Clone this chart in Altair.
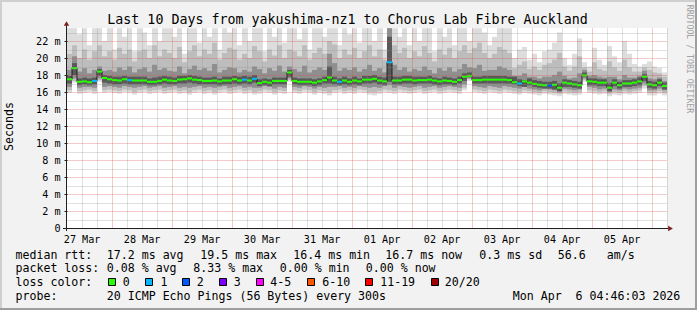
import altair as alt
import pandas as pd

# ---------------- data ----------------
START_UTC = "2026-03-27 06:10"
END_UTC = "2026-04-06 06:10"
BIN_HOURS = 2

title_text = "Last 10 Days from yakushima-nz1 to Chorus Lab Fibre Auckland"
y_title = "Seconds"
watermark = "RRDTOOL / TOBI OETIKER"

median_rtt_ms = [
    17.5, 18.8, 17.2, 17.25, 17.15, 17.3, 18.4, 17.65, 17.5,
    17.4, 17.35, 17.5, 17.4, 17.35, 17.35, 17.35, 17.2, 17.2, 17.3, 17.45, 17.35,
    17.3, 17.45, 17.5, 17.6, 17.45, 17.4, 17.3, 17.3, 17.35, 17.25, 17.35, 17.35,
    17.5, 17.35, 17.45, 17.35, 17.55, 17.05, 17.2, 17.1, 17.3, 17.3, 17.3, 18.3,
    17.3, 17.2, 17.2, 17.2, 17.1, 17.25, 17.4, 17.7, 17.35, 17.2, 17.35, 17.2,
    17.35, 17.25, 17.45, 17.45, 17.55, 17.35, 17.25, 19.5, 17.35, 17.35, 17.45, 17.45,
    17.35, 17.4, 17.4, 17.45, 17.35, 17.25, 17.35, 17.3, 17.2, 17.4, 17.8, 17.9,
    17.4, 17.4, 17.45, 17.45, 17.45, 17.45, 17.45, 17.4, 17.15, 17.0, 17.25, 17.1,
    16.95, 16.85, 16.8, 16.75, 16.85, 16.5, 17.1, 17.0, 16.9, 16.8, 17.95, 17.25,
    17.2, 17.1, 17.1, 16.5, 17.1, 16.8, 17.0, 17.0, 17.1, 17.25, 17.8, 16.9,
    16.8, 17.1, 16.7,
]

lost_pings = [
    0, 0, 0, 0, 0, 1, 0, 0, 0,
    0, 0, 0, 1, 0, 0, 0, 0, 0, 0, 0, 0,
    0, 0, 0, 0, 0, 0, 0, 0, 0, 0, 0, 0,
    0, 0, 1, 0, 1, 0, 0, 0, 0, 0, 0, 0,
    0, 0, 0, 0, 0, 0, 0, 0, 0, 1, 0, 0,
    0, 0, 0, 0, 0, 0, 0, 1, 0, 0, 0, 0,
    0, 0, 0, 0, 0, 0, 0, 0, 0, 0, 0, 0,
    0, 0, 0, 0, 0, 0, 0, 0, 0, 1, 0, 0,
    0, 0, 0, 2, 0, 0, 0, 0, 0, 0, 0, 0,
    0, 0, 0, 0, 0, 0, 0, 0, 0, 0, 0, 0,
    0, 0, 0,
]

# smoke: outer (lightest) to inner (darkest) bands, upper edges
smoke_hi_1 = [
    23.5, 23.5, 22.8, 23.5, 21.5, 23.5, 23.5, 22.0, 23.5,
    21.0, 23.5, 22.5, 23.5, 20.8, 23.5, 23.0, 21.5, 23.5, 22.0, 23.5, 23.5,
    22.5, 23.5, 20.5, 23.5, 23.5, 21.8, 23.5, 22.5, 23.5, 21.0, 23.5, 23.0,
    23.5, 21.5, 23.5, 22.0, 23.5, 23.5, 20.8, 23.5, 22.5, 23.5, 21.8, 23.5,
    23.5, 22.2, 23.5, 21.0, 23.5, 23.5, 22.5, 23.5, 23.5, 21.5, 23.5, 22.8,
    23.5, 21.8, 23.5, 23.5, 22.0, 23.5, 21.0, 23.5, 23.5, 22.5, 23.5, 21.5,
    23.5, 22.0, 23.5, 23.5, 20.8, 23.5, 22.5, 23.5, 21.5, 23.5, 23.5, 22.0,
    23.5, 23.5, 23.0, 21.5, 22.5, 23.5, 23.5, 23.5, 20.0, 21.0, 21.3, 19.8,
    20.5, 19.5, 20.8, 21.0, 21.8, 23.0, 20.0, 19.2, 20.5, 22.3, 19.5, 19.0,
    21.2, 19.8, 19.2, 21.4, 20.2, 19.5, 22.0, 20.5, 19.3, 19.0, 19.3, 19.6,
    19.0, 18.8, 18.3,
]
smoke_hi_2 = [
    20.5, 21.5, 20.0, 21.0, 19.8, 20.8, 21.5, 20.2, 20.8,
    19.8, 21.2, 20.5, 21.0, 19.6, 20.8, 21.0, 20.0, 21.5, 20.2, 21.0, 20.6,
    20.0, 21.3, 19.5, 20.8, 21.5, 20.2, 21.0, 20.5, 21.8, 19.8, 20.6, 21.2,
    21.0, 19.8, 20.5, 20.0, 21.4, 20.8, 19.6, 21.0, 20.3, 21.5, 20.0, 21.0,
    20.8, 20.2, 21.5, 19.8, 20.6, 21.2, 20.5, 22.0, 21.6, 20.0, 21.0, 20.4,
    21.2, 20.0, 20.8, 21.5, 20.2, 21.0, 19.8, 23.5, 21.5, 20.6, 21.2, 20.0,
    20.8, 20.2, 21.4, 20.6, 19.6, 21.0, 20.4, 21.2, 20.0, 20.8, 21.5, 20.6,
    21.2, 21.8, 20.6, 20.0, 20.5, 21.3, 21.0, 20.6, 18.8, 19.2, 19.6, 18.7,
    19.0, 18.6, 19.2, 19.4, 19.8, 20.6, 19.0, 18.5, 19.0, 20.2, 18.9, 18.4,
    19.5, 18.7, 18.5, 19.6, 18.9, 18.5, 19.8, 18.9, 18.4, 18.4, 18.9, 18.6,
    18.3, 18.2, 17.8,
]
smoke_hi_3 = [
    18.6, 20.2, 18.4, 18.8, 18.2, 18.6, 19.0, 18.5, 18.6,
    18.4, 18.9, 18.6, 19.0, 18.3, 18.7, 18.9, 18.4, 19.2, 18.6, 18.8, 18.5,
    18.4, 19.0, 18.2, 18.7, 19.1, 18.6, 18.8, 18.5, 19.3, 18.3, 18.6, 18.9,
    18.8, 18.3, 18.6, 18.4, 19.0, 18.7, 18.2, 18.8, 18.5, 19.1, 18.4, 19.0,
    18.7, 18.4, 19.1, 18.3, 18.6, 18.9, 18.6, 20.5, 19.4, 18.5, 18.8, 18.6,
    18.9, 18.4, 18.7, 19.2, 18.5, 18.8, 18.3, 23.5, 19.2, 18.6, 18.9, 18.4,
    18.7, 18.5, 19.0, 18.6, 18.2, 18.8, 18.5, 18.9, 18.4, 18.7, 19.3, 18.9,
    18.8, 19.2, 18.5, 18.6, 18.6, 19.0, 18.8, 18.6, 17.9, 17.9, 18.2, 17.8,
    17.8, 17.6, 17.8, 17.8, 18.0, 18.4, 17.9, 17.6, 17.7, 18.2, 18.6, 17.9,
    18.0, 17.8, 17.7, 17.8, 17.8, 17.5, 18.0, 17.7, 17.7, 17.9, 18.5, 17.6,
    17.5, 17.7, 17.3,
]
smoke_hi_4 = [
    17.9, 19.4, 17.6, 17.7, 17.6, 17.7, 18.7, 18.0, 17.9,
    17.8, 17.8, 17.9, 17.8, 17.8, 17.8, 17.8, 17.6, 17.7, 17.8, 17.9, 17.8,
    17.7, 17.9, 17.9, 18.0, 17.9, 17.8, 17.7, 17.7, 17.8, 17.6, 17.8, 17.8,
    17.9, 17.8, 17.9, 17.8, 18.0, 17.5, 17.6, 17.5, 17.7, 17.7, 17.7, 18.6,
    17.7, 17.6, 17.6, 17.6, 17.5, 17.6, 17.8, 19.0, 17.8, 17.6, 17.8, 17.6,
    17.8, 17.6, 17.9, 17.9, 18.0, 17.8, 17.7, 22.5, 17.8, 17.8, 17.9, 17.9,
    17.8, 17.8, 17.8, 17.9, 17.7, 17.6, 17.8, 17.7, 17.6, 17.8, 18.2, 18.3,
    17.8, 17.8, 17.9, 17.9, 17.9, 17.9, 17.9, 17.8, 17.8, 17.5, 17.4, 17.6,
    17.4, 17.3, 17.2, 17.2, 17.3, 17.0, 17.5, 17.4, 17.3, 17.2, 18.3, 17.6,
    17.6, 17.5, 17.5, 17.0, 17.5, 17.2, 17.4, 17.4, 17.5, 17.7, 18.1, 17.3,
    17.2, 17.5, 17.1,
]
# lower edges
smoke_lo_1 = [
    15.9, 17.1, 15.8, 15.9, 16.0, 15.8, 17.2, 15.9, 16.0,
    15.9, 15.8, 16.0, 15.9, 15.7, 15.9, 16.0, 15.8, 15.9, 16.0, 15.8, 15.9,
    16.0, 15.8, 15.9, 15.7, 15.9, 16.0, 15.8, 15.9, 15.7, 15.9, 16.0, 15.8,
    15.9, 16.0, 15.8, 15.9, 15.7, 15.8, 16.0, 15.9, 15.7, 15.9, 15.8, 17.2,
    15.9, 15.8, 16.0, 15.9, 15.7, 15.9, 15.8, 15.6, 15.9, 16.0, 15.8, 15.9,
    15.8, 16.0, 15.9, 15.7, 15.6, 15.8, 16.0, 15.9, 15.8, 16.0, 15.9, 15.8,
    15.9, 16.0, 15.8, 15.9, 16.0, 15.8, 15.9, 16.0, 15.9, 15.8, 16.2, 17.3,
    16.0, 15.9, 15.8, 16.0, 15.9, 15.8, 16.0, 15.9, 15.8, 15.7, 15.9, 15.8,
    15.7, 15.6, 15.8, 15.7, 15.6, 15.5, 15.8, 15.7, 15.6, 15.7, 17.2, 15.9,
    15.8, 15.7, 15.8, 15.5, 15.7, 15.6, 15.8, 15.7, 15.8, 15.9, 16.4, 15.6,
    15.6, 15.8, 15.6,
]
smoke_lo_2 = [
    16.2, 17.3, 16.1, 16.2, 16.3, 16.1, 17.4, 16.2, 16.3,
    16.2, 16.1, 16.3, 16.2, 16.0, 16.2, 16.3, 16.1, 16.2, 16.3, 16.1, 16.2,
    16.3, 16.1, 16.2, 16.0, 16.2, 16.3, 16.1, 16.2, 16.0, 16.2, 16.3, 16.1,
    16.2, 16.3, 16.1, 16.2, 16.0, 16.1, 16.3, 16.2, 16.0, 16.2, 16.1, 17.4,
    16.2, 16.1, 16.3, 16.2, 16.0, 16.2, 16.1, 16.0, 16.2, 16.3, 16.1, 16.2,
    16.1, 16.3, 16.2, 16.0, 16.0, 16.1, 16.3, 16.2, 16.1, 16.3, 16.2, 16.1,
    16.2, 16.3, 16.1, 16.2, 16.3, 16.1, 16.2, 16.3, 16.2, 16.1, 16.5, 17.5,
    16.3, 16.2, 16.1, 16.3, 16.2, 16.1, 16.3, 16.2, 16.1, 16.0, 16.2, 16.1,
    16.0, 15.9, 16.1, 16.0, 15.9, 15.8, 16.1, 16.0, 15.9, 16.0, 17.4, 16.2,
    16.1, 16.0, 16.1, 15.8, 16.0, 15.9, 16.1, 16.0, 16.1, 16.2, 16.7, 15.9,
    15.9, 16.1, 15.9,
]
smoke_lo_3 = [
    16.6, 17.6, 16.5, 16.6, 16.6, 16.5, 17.6, 16.6, 16.7,
    16.6, 16.5, 16.7, 16.6, 16.5, 16.6, 16.7, 16.5, 16.6, 16.7, 16.5, 16.6,
    16.7, 16.5, 16.6, 16.5, 16.6, 16.7, 16.5, 16.6, 16.5, 16.6, 16.7, 16.5,
    16.6, 16.7, 16.5, 16.6, 16.5, 16.5, 16.7, 16.6, 16.4, 16.6, 16.5, 17.6,
    16.6, 16.5, 16.7, 16.6, 16.4, 16.6, 16.5, 16.6, 16.6, 16.7, 16.5, 16.6,
    16.5, 16.7, 16.6, 16.5, 16.6, 16.5, 16.7, 16.8, 16.5, 16.7, 16.6, 16.5,
    16.6, 16.7, 16.5, 16.6, 16.7, 16.5, 16.6, 16.7, 16.6, 16.5, 16.9, 17.6,
    16.7, 16.6, 16.5, 16.7, 16.6, 16.5, 16.7, 16.6, 16.5, 16.4, 16.6, 16.4,
    16.3, 16.2, 16.4, 16.3, 16.2, 16.0, 16.4, 16.3, 16.2, 16.3, 17.6, 16.6,
    16.5, 16.3, 16.4, 16.0, 16.3, 16.2, 16.4, 16.3, 16.4, 16.5, 17.0, 16.2,
    16.2, 16.4, 16.2,
]
smoke_lo_4 = [
    17.0, 18.0, 16.8, 16.9, 16.8, 16.9, 17.9, 17.1, 17.0,
    16.9, 16.9, 17.0, 16.9, 16.9, 16.9, 16.9, 16.8, 16.8, 16.9, 17.0, 16.9,
    16.9, 17.0, 17.0, 17.1, 17.0, 16.9, 16.9, 16.9, 16.9, 16.8, 16.9, 16.9,
    17.0, 16.9, 17.0, 16.9, 17.1, 16.7, 16.8, 16.7, 16.9, 16.9, 16.9, 17.8,
    16.9, 16.8, 16.8, 16.8, 16.7, 16.8, 17.0, 17.0, 16.9, 16.8, 16.9, 16.8,
    16.9, 16.8, 17.0, 17.0, 17.1, 16.9, 16.8, 17.2, 16.9, 16.9, 17.0, 17.0,
    16.9, 17.0, 17.0, 17.0, 16.9, 16.8, 16.9, 16.9, 16.8, 17.0, 17.3, 17.8,
    17.0, 17.0, 17.0, 17.0, 17.0, 17.0, 17.0, 17.0, 16.9, 16.7, 16.6, 16.8,
    16.6, 16.5, 16.4, 16.4, 16.3, 16.1, 16.6, 16.6, 16.5, 16.4, 17.8, 16.8,
    16.8, 16.7, 16.7, 16.1, 16.7, 16.4, 16.6, 16.6, 16.7, 16.8, 17.3, 16.5,
    16.4, 16.7, 16.3,
]

loss_labels = ["0", "1", "2", "3", "4-5", "6-10", "11-19", "20/20"]
loss_colors = ["#26ff00", "#00b8ff", "#0059ff", "#7e00ff", "#ff00ff", "#ff5500", "#ff0000", "#a10000"]

row_labels = ["median rtt:", "packet loss:", "loss color:", "probe:"]
rtt_stats = ["17.2 ms avg", "19.5 ms max", "16.4 ms min", "16.7 ms now", "0.3 ms sd", "56.6", "am/s"]
loss_stats = ["0.08 % avg", "8.33 % max", "0.00 % min", "0.00 % now"]
probe_text = "20 ICMP Echo Pings (56 Bytes) every 300s"
stamp_text = "Mon Apr \u00a06 04:46:03 2026"

# ---------------- layout / style ----------------
PAD_L, PAD_T, PAD_R, PAD_B = 67, 28, 30, 82
W, H = 600, 200
Y_MAX = 200 / 8.5
MONO = "DejaVu Sans Mono"
LEG_FS = 11.6
AX_FS = 10.15
RED = "rgba(222,79,79,0.6)"
GRAY = "rgba(143,143,143,0.55)"
SMOKE = ["#dddddd", "#bdbdbd", "#8f8f8f", "#595959"]

series = [median_rtt_ms, lost_pings, smoke_hi_1, smoke_hi_2, smoke_hi_3, smoke_hi_4,
          smoke_lo_1, smoke_lo_2, smoke_lo_3, smoke_lo_4]
n = len(median_rtt_ms)
assert all(len(s) == n for s in series), [len(s) for s in series]


def loss_label(c):
    if c <= 3:
        return loss_labels[c]
    if c <= 5:
        return "4-5"
    if c <= 10:
        return "6-10"
    if c <= 19:
        return "11-19"
    return "20/20"


def ms(ts):
    return int(ts.value // 10**6)


t_start = pd.Timestamp(START_UTC, tz="UTC")
t_end = pd.Timestamp(END_UTC, tz="UTC")
starts = pd.date_range(t_start, periods=n, freq=f"{BIN_HOURS}h")
df = pd.DataFrame({
    "t0": [ms(t) for t in starts],
    "t1": [ms(t + pd.Timedelta(hours=BIN_HOURS)) for t in starts],
    "med": median_rtt_ms,
    "loss": [loss_label(c) for c in lost_pings],
    "hi1": smoke_hi_1, "hi2": smoke_hi_2, "hi3": smoke_hi_3, "hi4": smoke_hi_4,
    "lo1": smoke_lo_1, "lo2": smoke_lo_2, "lo3": smoke_lo_3, "lo4": smoke_lo_4,
})
line_df = pd.DataFrame({
    "t0": [ms(t) for t in starts] + [ms(t_end)],
    "med": median_rtt_ms + [median_rtt_ms[-1]],
})

grid_times = [ms(t) for t in pd.date_range("2026-03-27 12:00", "2026-04-06 06:00", freq="6h", tz="UTC")]

x_scale = alt.Scale(type="utc", domain=[ms(t_start), ms(t_end)], nice=False)
y_scale = alt.Scale(domain=[0, Y_MAX], nice=False, zero=True)

x_axis = alt.Axis(
    values=grid_times,
    labelExpr="utchours(datum.value) == 12 ? utcFormat(datum.value, '%d %b') : ''",
    labelFont=MONO, labelFontSize=AX_FS, labelColor="#000000", labelPadding=6,
    labelOverlap=False, labelFlush=False, ticks=False, domain=False,
    grid=True, gridDash=[1, 1], gridWidth=1,
    gridColor={"condition": {"test": "utchours(datum.value) == 0", "value": RED}, "value": GRAY},
    title=None, zindex=1,
)
y_axis = alt.Axis(
    values=list(range(0, 24)),
    labelExpr="datum.value == 0 ? '0' : (datum.value % 2 == 0 ? datum.value + ' m' : '')",
    labelFont=MONO, labelFontSize=AX_FS, labelColor="#000000", labelPadding=4,
    labelOverlap=False, tickSize=3,
    tickColor={"condition": {"test": "datum.value % 2 == 0", "value": "#1f1f1f"}, "value": "rgba(0,0,0,0)"},
    domain=False, grid=True, gridDash=[1, 1], gridWidth=1,
    gridColor={"condition": {"test": "datum.value % 2 == 0", "value": RED}, "value": GRAY},
    gridOpacity={"condition": {"test": "datum.value == 0", "value": 0}, "value": 1},
    title=None, zindex=1,
)

X = alt.X("t0:T", scale=x_scale, axis=x_axis)

layers = []
base = alt.Chart(df)
for i, col in enumerate(SMOKE, start=1):
    layers.append(base.mark_rect(color=col).encode(
        x=X, x2="t1:T",
        y=alt.Y(f"lo{i}:Q", scale=y_scale, axis=y_axis), y2=f"hi{i}:Q",
    ))

layers.append(alt.Chart(line_df).mark_line(interpolate="step-after", color="#202020", strokeWidth=1).encode(
    x=X, y=alt.Y("med:Q", scale=y_scale, axis=y_axis)))

layers.append(base.transform_calculate(mlo="datum.med - 0.12", mhi="datum.med + 0.12").mark_rect().encode(
    x=X, x2="t1:T",
    y=alt.Y("mlo:Q", scale=y_scale, axis=y_axis), y2="mhi:Q",
    color=alt.Color("loss:N", scale=alt.Scale(domain=loss_labels, range=loss_colors), legend=None),
))

# ---------------- decorations (frame, axes, arrows, texts) ----------------
deco = pd.DataFrame({"k": [0]})


def rx(v):
    return alt.value(v - PAD_L)


def ry(v):
    return alt.value(v - PAD_T)


def hrule(x1, x2, y, color, width):
    return alt.Chart(deco).mark_rule(color=color, strokeWidth=width).encode(x=rx(x1), x2=rx(x2), y=ry(y))


def vrule(x, y1, y2, color, width):
    return alt.Chart(deco).mark_rule(color=color, strokeWidth=width).encode(x=rx(x), y=ry(y1), y2=ry(y2))


def text_at(txt, x, y, size=LEG_FS, align="left", baseline="alphabetic", color="#000000", angle=0):
    props = dict(text=txt, font=MONO, fontSize=size, align=align, baseline=baseline, color=color)
    if angle:
        props["angle"] = angle
    return alt.Chart(deco).mark_text(**props).encode(x=rx(x), y=ry(y))


# frame
layers += [
    hrule(0, 697, 1, "#cfcfcf", 2),
    vrule(1, 0, 310, "#cfcfcf", 2),
    hrule(0, 697, 309, "#9e9e9e", 2),
    vrule(696, 0, 310, "#9e9e9e", 2),
]
# axis lines and arrows
layers += [
    hrule(63, 668, 228.5, "#1f1f1f", 1),
    vrule(66.5, 231, 25, "#1f1f1f", 1),
    alt.Chart(deco).mark_point(shape="triangle-right", filled=True, size=30, color="#801f1f", opacity=1).encode(
        x=rx(670.5), y=ry(228.5)),
    alt.Chart(deco).mark_point(shape="triangle-up", filled=True, size=30, color="#801f1f", opacity=1).encode(
        x=rx(66.5), y=ry(23.5)),
]
# titles
layers += [
    text_at(title_text, 347.5, 24, size=13.3, align="center"),
    text_at(y_title, 10, 126.5, align="center", baseline="middle", angle=270),
    text_at(watermark, 688.5, 59, size=8.2, align="center", baseline="middle", color="#a0a0a0", angle=90),
]
# legend rows
ROW = [258.5, 272.3, 286.1, 300.0]
for lab, yb in zip(row_labels, ROW):
    layers.append(text_at(lab, 15.5, yb))
for txt, x in zip(rtt_stats, [106.8, 200.3, 293.3, 385.3, 479.3, 557.8, 606.8]):
    layers.append(text_at(txt, x, ROW[0]))
for txt, x in zip(loss_stats, [106.8, 193.3, 279.8, 365.8]):
    layers.append(text_at(txt, x, ROW[1]))
swatch_x = [108.5, 145.5, 182.5, 219.5, 256.5, 307.5, 365.5, 431.5]
label_x = [122.8, 160.5, 196.8, 233.8, 270.2, 322.2, 380.2, 444.8]
for lab, col, sx, lx in zip(loss_labels, loss_colors, swatch_x, label_x):
    layers.append(alt.Chart(deco).mark_rect(fill=col, stroke="#000000", strokeWidth=1).encode(
        x=rx(sx), x2=rx(sx + 7), y=ry(278.5), y2=ry(285.5)))
    layers.append(text_at(lab, lx, ROW[2]))
layers.append(text_at(probe_text, 106.8, ROW[3]))
layers.append(text_at(stamp_text, 512.8, ROW[3]))

chart = alt.layer(*layers).properties(
    width=W, height=H,
    padding={"left": PAD_L, "top": PAD_T, "right": PAD_R, "bottom": PAD_B},
    autosize=alt.AutoSizeParams(type="none"),
    background="#f2f2f2",
).configure_view(fill="#ffffff", strokeWidth=0)

chart.save("out.html", embed_options={"renderer": "svg", "actions": False})
